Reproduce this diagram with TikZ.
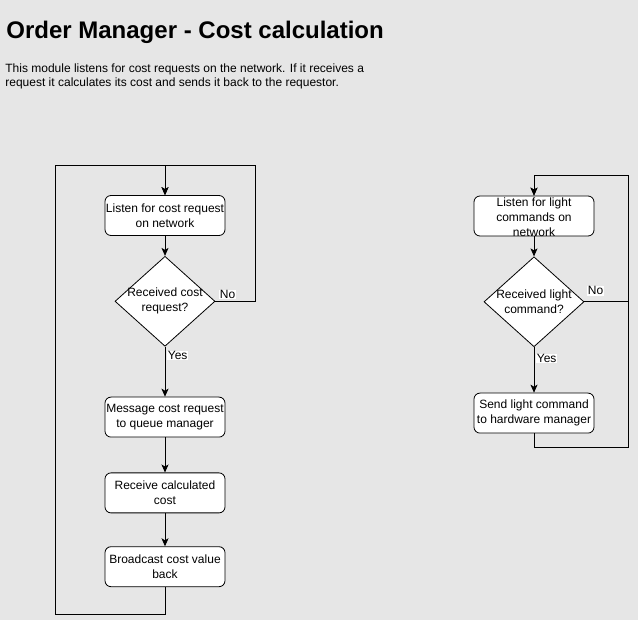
\documentclass[tikz,border=0pt]{standalone}
\usepackage{fontspec}
\setmainfont{Liberation Sans}
\usetikzlibrary{positioning,shapes.geometric,arrows.meta}
\definecolor{pagebg}{HTML}{E6E6E6}
\tikzset{
  stepbox/.style={draw,fill=white,rounded corners=6pt,minimum width=120pt,minimum height=40pt,inner sep=0pt},
  choice/.style={draw,fill=white,diamond,minimum width=100pt,minimum height=90pt,inner sep=0pt},
  boxtext/.style={align=center,inner sep=0pt,font=\fontsize{12}{15}\selectfont},
  flow/.style={-{Stealth[length=8pt,width=7pt,inset=2pt]}},
  tag/.style={fill=white,inner sep=0.5pt,font=\fontsize{12}{14}\selectfont}
}
\begin{document}
\begin{tikzpicture}[x=1pt,y=-1pt,line width=0.8pt]
        \useasboundingbox[fill=pagebg] (0,0) rectangle (638,620);
        \node[anchor=base west,inner sep=0pt,font=\bfseries\fontsize{24}{28}\selectfont] (title) at (6,39) {Order Manager - Cost calculation};
        \node[anchor=base west,inner sep=0pt,align=left,font=\fontsize{12}{14.5}\selectfont] (intro) at (5,87) {This module listens for cost requests on the network. If it receives a\\request it calculates its cost and sends it back to the requestor.};
        % cost request loop
        \node[stepbox,label={[boxtext]center:Listen for cost request\\on network}] (listen) at (165,215.5) {};
        \node[choice,below=20pt of listen,label={[boxtext]center:Received cost\\request?}] (costq) {};
        \node[stepbox,below=50pt of costq,label={[boxtext]center:Message cost request\\to queue manager}] (msg) {};
        \node[stepbox,below=35pt of msg,label={[boxtext]center:Receive calculated\\cost}] (recv) {};
        \node[stepbox,below=33pt of recv,label={[boxtext]center:Broadcast cost value\\back}] (bcast) {};
        \draw[flow] (listen) -- (costq);
        \draw[flow] (costq) -- node[tag,anchor=west,pos=0.17,xshift=2pt]{Yes} (msg);
        \draw[flow] (msg) -- (recv);
        \draw[flow] (recv) -- (bcast);
        \draw[flow] (costq.east) -| (255,165) -| (listen.north);
        \node[tag,anchor=south west] (costno) at (219,299.5) {No};
        \draw[flow] (bcast.south) -- ++(0,27) -| (55,165) -| (listen.north);
        % light command loop
        \node[stepbox,label={[boxtext,yshift=-1pt]center:Listen for light\\commands on\\network}] (listen2) at (534,216) {};
        \node[choice,below=20pt of listen2,label={[boxtext]center:Received light\\command?}] (lightq) {};
        \node[stepbox,below=45.5pt of lightq,label={[boxtext]center:Send light command\\to hardware manager}] (send) {};
        \draw[flow] (listen2) -- (lightq);
        \draw[flow] (lightq) -- node[tag,anchor=west,pos=0.25,xshift=2pt]{Yes} (send);
        \draw[flow] (lightq.east) -| (628,175) -| (listen2.north);
        \node[tag,anchor=south west] (lightno) at (587,296) {No};
        \draw[flow] (send.south) -- ++(0,14) -| (628,175) -| (listen2.north);
\end{tikzpicture}
\end{document}
